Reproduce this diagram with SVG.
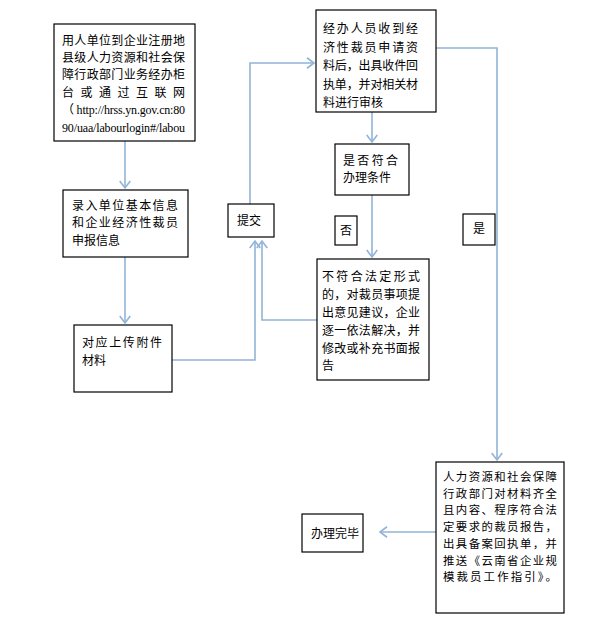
<svg xmlns="http://www.w3.org/2000/svg" width="596" height="639" viewBox="0 0 596 639">
<style>
.box{fill:#fff;stroke:#000;stroke-width:1.2}
.t{font-family:"Noto Sans CJK SC","Noto Sans",sans-serif;font-size:12px;fill:#000}
.s{font-size:11.4px}
.u{font-family:"Liberation Serif","Noto Sans CJK SC",serif;font-size:12px;fill:#000}
.c{fill:none;stroke:#91b4d7;stroke-width:1.6}
</style>
<defs>
<marker id="ah" markerUnits="userSpaceOnUse" markerWidth="14" markerHeight="14" viewBox="-8 -6 10 12" refX="0" refY="0" orient="auto">
<path d="M-6,-4.5 L0,0 L-6,4.5" fill="none" stroke="#91b4d7" stroke-width="1.4"/>
</marker>
</defs>
<rect width="596" height="639" fill="#fff"/>
<g id="connectors">
<path class="c" d="M125,141 V188" marker-end="url(#ah)"/>
<path class="c" d="M125,257 V323" marker-end="url(#ah)"/>
<path class="c" d="M172,360 H255 V241" marker-end="url(#ah)"/>
<path class="c" d="M317,320 H262 V241" marker-end="url(#ah)"/>
<path class="c" d="M250,204 V63 H314" marker-end="url(#ah)"/>
<path class="c" d="M372,112 V142" marker-end="url(#ah)"/>
<path class="c" d="M372,195 V257" marker-end="url(#ah)"/>
<path class="c" d="M436,48 H497 V460" marker-end="url(#ah)"/>
<path class="c" d="M436,532 H380" marker-end="url(#ah)"/>
</g>
<g id="n1">
<rect class="box" x="54" y="24" width="141" height="117"/>
<text class="t" x="62" y="45" textLength="123" lengthAdjust="spacing">用人单位到企业注册地</text>
<text class="t" x="62" y="62" textLength="123" lengthAdjust="spacing">县级人力资源和社会保</text>
<text class="t" x="62" y="79" textLength="123" lengthAdjust="spacing">障行政部门业务经办柜</text>
<text class="t" x="62" y="97" textLength="123" lengthAdjust="spacing">台或通过互联网</text>
<text class="u" x="62" y="114" textLength="123" lengthAdjust="spacing">（ http://hrss.yn.gov.cn:80</text>
<text class="u" x="62" y="132" textLength="123" lengthAdjust="spacing">90/uaa/labourlogin#/labou</text>
</g>
<g id="n2">
<rect class="box" x="63" y="190" width="125" height="67"/>
<text class="t" x="72" y="210" textLength="106" lengthAdjust="spacing">录入单位基本信息</text>
<text class="t" x="72" y="227" textLength="106" lengthAdjust="spacing">和企业经济性裁员</text>
<text class="t" x="72" y="245">申报信息</text>
</g>
<g id="n3">
<rect class="box" x="74" y="325" width="98" height="67"/>
<text class="t" x="82" y="347" textLength="80" lengthAdjust="spacing">对应上传附件</text>
<text class="t" x="82" y="365">材料</text>
</g>
<g id="n4">
<rect class="box" x="228" y="204" width="46" height="33"/>
<text class="t" x="237" y="225">提交</text>
</g>
<g id="n5">
<rect class="box" x="316" y="10" width="120" height="102"/>
<text class="t" x="323" y="33" textLength="95" lengthAdjust="spacing">经办人员收到经</text>
<text class="t" x="323" y="51.5" textLength="95" lengthAdjust="spacing">济性裁员申请资</text>
<text class="t" x="323" y="70" textLength="95" lengthAdjust="spacing">料后，出具收件回</text>
<text class="t" x="323" y="88.5" textLength="95" lengthAdjust="spacing">执单，并对相关材</text>
<text class="t" x="323" y="107">料进行审核</text>
</g>
<g id="n6">
<rect class="box" x="335" y="144" width="74" height="51"/>
<text class="t" x="343" y="165" textLength="55" lengthAdjust="spacing">是否符合</text>
<text class="t" x="343" y="182">办理条件</text>
</g>
<g id="n7">
<rect class="box" x="335" y="216" width="22" height="29"/>
<text class="t" x="340" y="235">否</text>
</g>
<g id="n8">
<rect class="box" x="317" y="259" width="112" height="121"/>
<text class="t" x="322" y="281" textLength="98" lengthAdjust="spacing">不符合法定形式</text>
<text class="t" x="322" y="299" textLength="98" lengthAdjust="spacing">的，对裁员事项提</text>
<text class="t" x="322" y="317" textLength="98" lengthAdjust="spacing">出意见建议，企业</text>
<text class="t" x="322" y="335" textLength="98" lengthAdjust="spacing">逐一依法解决，并</text>
<text class="t" x="322" y="353" textLength="98" lengthAdjust="spacing">修改或补充书面报</text>
<text class="t" x="322" y="370">告</text>
</g>
<g id="n9">
<rect class="box" x="463" y="214" width="32" height="31"/>
<text class="t" x="473" y="233">是</text>
</g>
<g id="n10">
<rect class="box" x="436" y="462" width="128" height="151"/>
<text class="t s" x="443" y="481" textLength="114" lengthAdjust="spacing">人力资源和社会保障</text>
<text class="t s" x="443" y="497.7" textLength="114" lengthAdjust="spacing">行政部门对材料齐全</text>
<text class="t s" x="443" y="514.4" textLength="114" lengthAdjust="spacing">且内容、程序符合法</text>
<text class="t s" x="443" y="531.1" textLength="114" lengthAdjust="spacing">定要求的裁员报告，</text>
<text class="t s" x="443" y="547.8" textLength="114" lengthAdjust="spacing">出具备案回执单，并</text>
<text class="t s" x="443" y="564.5" textLength="114" lengthAdjust="spacing">推送《云南省企业规</text>
<text class="t s" x="443" y="581.2" textLength="114" lengthAdjust="spacing">模裁员工作指引》。</text>
</g>
<g id="n11">
<rect class="box" x="302" y="514" width="61" height="38"/>
<text class="t" x="311" y="538">办理完毕</text>
</g>
</svg>
